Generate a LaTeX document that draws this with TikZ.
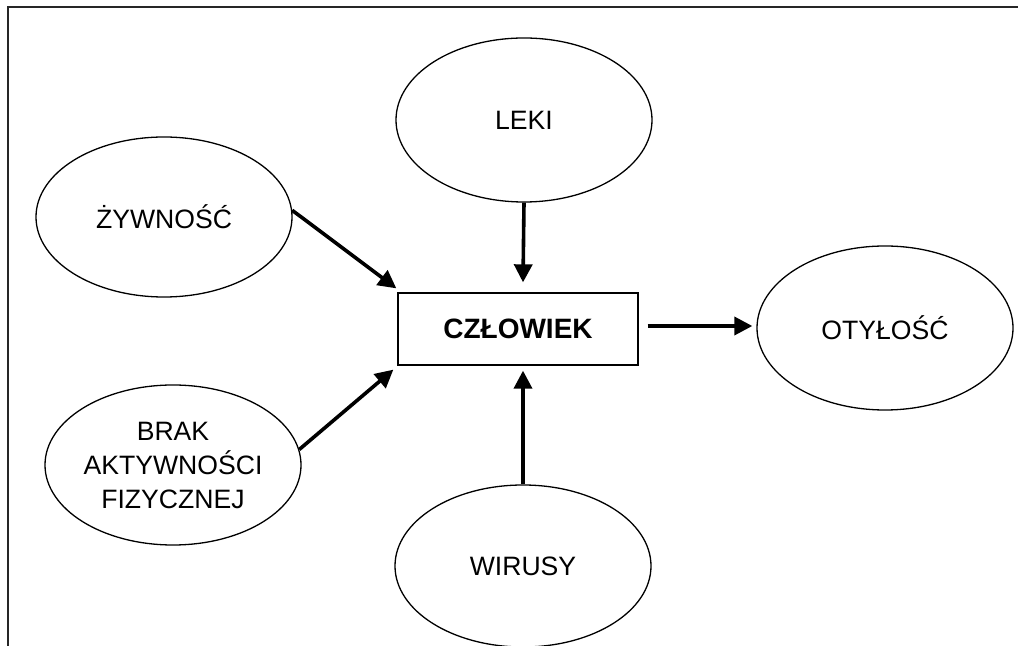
\documentclass[tikz,border=0pt]{standalone}
\usepackage{fontspec}
\setmainfont{Liberation Sans}
\usetikzlibrary{shapes.geometric,arrows.meta,calc}
\begin{document}
\begin{tikzpicture}[x=0.5pt,y=-0.5pt,
  bubble/.style={draw,ellipse,line width=0.65pt,minimum width=128pt,minimum height=82pt,inner sep=0pt,align=center,font=\fontsize{13.3}{17}\selectfont},
  mainbox/.style={draw,rectangle,line width=0.65pt,minimum width=120pt,minimum height=36pt,inner sep=0pt,font=\fontsize{14}{16}\selectfont\bfseries},
  link/.style={line width=1.8pt,-{Triangle[length=9pt,width=9pt]}},
  frameline/.style={line width=1pt,draw=black!85}
]
\useasboundingbox[fill=white] (0,0) rectangle (1018,646);
\draw[frameline] (1018,7.5) -- (7.5,7.5) -- (7.5,646);

\node[bubble] (leki) at (524,120) {LEKI};
\node[bubble,minimum height=80pt] (zyw) at (164,217) {ŻYWNOŚĆ};
\node[bubble,minimum height=80pt] (brak) at (173,465) {BRAK\\AKTYWNOŚCI\\FIZYCZNEJ};
\node[bubble,minimum height=81pt] (wir) at (523,566) {WIRUSY};
\node[bubble] (oty) at (885,328) {OTYŁOŚĆ};
\node[mainbox] (czl) at (518,329) {CZŁOWIEK};

\coordinate (t1) at ($(czl.north west)+(-1,-4)$);
\coordinate (t2) at ($(czl.south west)+(-4,4)$);
\coordinate (t3) at ($(czl.north)+(5,-10)$);
\coordinate (t4) at ($(czl.south)+(5,5)$);
\coordinate (t5) at ($(oty.west)+(-4,-2)$);
\coordinate (s5) at ($(czl.east)+(9,-3)$);

\draw[link] (zyw.3) -- (t1);
\draw[link] (brak.7) -- (t2);
\draw[link] (leki.south) -- (t3);
\draw[link] (wir.north) -- (t4);
\draw[link] (s5) -- (t5);
\end{tikzpicture}
\end{document}
